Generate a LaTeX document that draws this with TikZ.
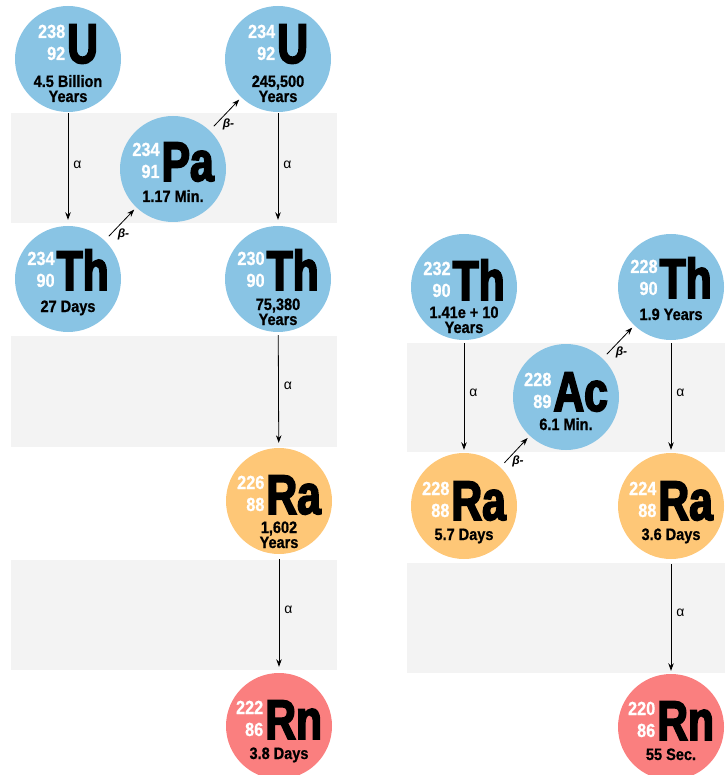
\documentclass[tikz,border=0pt]{standalone}
\usepackage{fontspec}
\setmainfont{Liberation Sans}
\newfontfamily\condf[FakeStretch=0.76,FakeBold=3]{Liberation Sans}
\newfontfamily\numff[FakeStretch=0.86,FakeBold=0.6]{Liberation Sans}
\newfontfamily\hlff[FakeStretch=0.88,FakeBold=0.8]{Liberation Sans}
\usetikzlibrary{arrows.meta,calc}
\definecolor{cblue}{HTML}{89C4E4}
\definecolor{corange}{HTML}{FEC777}
\definecolor{cred}{HTML}{FA7F7F}
\definecolor{bandgray}{HTML}{F3F3F3}
\tikzset{
  iso/.style={circle, minimum size=106pt, inner sep=0pt, fill=#1, draw=none},
  symtext/.style={anchor=base, inner sep=0pt, font=\condf\bfseries\fontsize{56}{56}\selectfont},
  hltext/.style={anchor=base, inner sep=0pt, font=\hlff\bfseries\fontsize{16.5}{16.5}\selectfont},
  band/.style={fill=bandgray, draw=none},
  decay/.style={-{Stealth[length=7.5pt,width=5.5pt]}, line width=0.8pt},
  alab/.style={midway, anchor=west, inner sep=0pt, xshift=5pt, yshift=4pt, font=\fontsize{14}{14}\selectfont},
  blab/.style={midway, inner sep=0pt, xshift=3pt, yshift=-10pt, font=\bfseries\itshape\fontsize{12}{12}\selectfont}
}
\newcommand\massz[2]{{\numff\fontsize{19}{22}\selectfont\color{white}\raisebox{3pt}[\height][0pt]{\begin{tabular}[b]{@{}r@{}}#1\\#2\end{tabular}}}}
\newcommand\iso[8]{%
  \node[iso=#4] (#1) at (#2,#3) {};
  \node[symtext] (#1-sym) at ($(#1)+(0,#8)$) {\massz{#5}{#6}\hspace{2pt}#7};
}
\newcommand\hl[4]{\node[hltext] (#1-#2) at ($(#1)+(0,#3)$) {#4};}
\begin{document}
\begin{tikzpicture}[x=1pt,y=-1pt]
\useasboundingbox (0,0) rectangle (725,775);
% bands
\fill[band] (11,113) rectangle (337,223);
\fill[band] (11,336) rectangle (337,447);
\fill[band] (11,560) rectangle (337,670);
\fill[band] (407,343) rectangle (725,452);
\fill[band] (407,563) rectangle (725,673);
% left chain
\iso{U238}{68}{59}{cblue}{238}{92}{U}{4}
\hl{U238}{l1}{28}{4.5 Billion}
\hl{U238}{l2}{43}{Years}
\iso{Pa234}{173}{169}{cblue}{234}{91}{Pa}{12}
\hl{Pa234}{l1}{33}{1.17 Min.}
\iso{U234}{278}{59}{cblue}{234}{92}{U}{4}
\hl{U234}{l1}{28}{245,500}
\hl{U234}{l2}{43}{Years}
\iso{Th234}{68}{279}{cblue}{234}{90}{Th}{11}
\hl{Th234}{l1}{33}{27 Days}
\iso{Th230}{278}{279}{cblue}{230}{90}{Th}{11}
\hl{Th230}{l1}{31}{75,380}
\hl{Th230}{l2}{46}{Years}
\iso{Ra226}{279}{501}{corange}{226}{88}{Ra}{13}
\hl{Ra226}{l1}{32}{1,602}
\hl{Ra226}{l2}{47}{Years}
\iso{Rn222}{279}{726}{cred}{222}{86}{Rn}{13}
\hl{Rn222}{l1}{33}{3.8 Days}
% right chain
\iso{Th232}{464}{287}{cblue}{232}{90}{Th}{13}
\hl{Th232}{l1}{31}{1.41e + 10}
\hl{Th232}{l2}{46}{Years}
\iso{Ac228}{566}{397}{cblue}{228}{89}{Ac}{14}
\hl{Ac228}{l1}{33}{6.1 Min.}
\iso{Th228}{671}{287}{cblue}{228}{90}{Th}{11}
\hl{Th228}{l1}{33}{1.9 Years}
\iso{Ra228}{464}{506}{corange}{228}{88}{Ra}{14}
\hl{Ra228}{l1}{34}{5.7 Days}
\iso{Ra224}{671}{506}{corange}{224}{88}{Ra}{14}
\hl{Ra224}{l1}{34}{3.6 Days}
\iso{Rn220}{671}{727}{cred}{220}{86}{Rn}{13}
\hl{Rn220}{l1}{33}{55 Sec.}
% alpha decays
\draw[decay, shorten <=1pt, shorten >=6pt] (U238) -- node[alab] (a1) {α} (Th234);
\draw[decay, shorten <=1pt, shorten >=6pt] (U234) -- node[alab] (a2) {α} (Th230);
\draw[decay, shorten <=3pt, shorten >=5pt] (Th230) -- node[alab] (a3) {α} (Ra226);
\draw[decay, shorten <=5pt, shorten >=6pt] (Ra226) -- node[alab] (a4) {α} (Rn222);
\draw[decay, shorten <=3pt, shorten >=3pt] (Th232) -- node[alab] (a5) {α} (Ra228);
\draw[decay, shorten <=3pt, shorten >=3pt] (Th228) -- node[alab] (a6) {α} (Ra224);
\draw[decay, shorten <=5pt, shorten >=3pt] (Ra224) -- node[alab] (a7) {α} (Rn220);
% beta decays
\draw[decay, shorten <=6pt, shorten >=3pt] (Th234) -- node[blab] (b1) {β-} (Pa234);
\draw[decay, shorten <=6pt, shorten >=3pt] (Pa234) -- node[blab] (b2) {β-} (U234);
\draw[decay, shorten <=6pt, shorten >=3pt] (Ra228) -- node[blab] (b3) {β-} (Ac228);
\draw[decay, shorten <=6pt, shorten >=3pt] (Ac228) -- node[blab] (b4) {β-} (Th228);
\end{tikzpicture}
\end{document}
